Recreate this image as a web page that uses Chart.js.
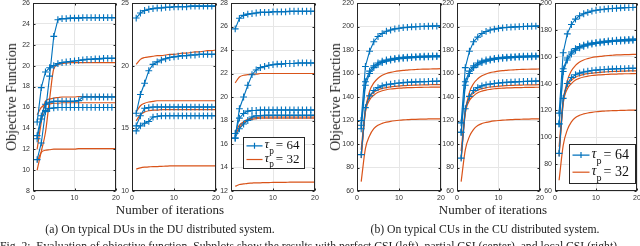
<!DOCTYPE html>
<html>
<head>
<meta charset="utf-8">
<script src="https://cdn.jsdelivr.net/npm/chart.js@4/dist/chart.umd.min.js"></script>
<style>
body { margin:0; background:#fff; width:640px; height:246px; overflow:hidden; position:relative; font-family:"Liberation Serif", "Times New Roman", serif; color:#222; }
canvas { position:absolute; }
.txt { position:absolute; white-space:nowrap; transform:translate(-50%, -50%); }
.ylab { transform:translate(-50%, -50%) rotate(-90deg); font-size:14px; }
.xlab { font-size:13px; }
.cap { font-size:11.7px; }
</style>
</head>
<body>
<canvas id="c1"></canvas>
<canvas id="c2"></canvas>
<canvas id="c3"></canvas>
<canvas id="c4"></canvas>
<canvas id="c5"></canvas>
<canvas id="c6"></canvas>

<div class="txt ylab" style="left:12px;top:97px">Objective Function</div>
<div class="txt ylab" style="left:336px;top:97px">Objective Function</div>
<div class="txt xlab" style="left:170px;top:210px">Number of iterations</div>
<div class="txt xlab" style="left:493px;top:210px">Number of iterations</div>
<div class="txt cap" style="left:160px;top:229px">(a) On typical DUs in the DU distributed system.</div>
<div class="txt cap" style="left:485px;top:229px">(b) On typical CUs in the CU distributed system.</div>
<div class="txt cap" style="left:0;top:246px;transform:translate(0,-50%)">Fig. 2:&nbsp; Evaluation of objective function. Subplots show the results with perfect CSI (left), partial CSI (center), and local CSI (right).</div>

<script>
const iterations = [1, 2, 3, 4, 5, 6, 7, 8, 9, 10, 11, 12, 13, 14, 15, 16, 17, 18, 19, 20];
const tauValues = [64, 32];

// (a) DU system, left subplot
const duA64 = [
    [11.0, 12.6, 15.6, 19.0, 22.8, 24.4, 24.5, 24.5, 24.55, 24.55, 24.55, 24.6, 24.6, 24.6, 24.6, 24.6, 24.6, 24.6, 24.6, 24.6],
    [14.6, 17.9, 19.4, 19.8, 20.0, 20.2, 20.3, 20.35, 20.4, 20.45, 20.5, 20.55, 20.6, 20.6, 20.65, 20.65, 20.7, 20.7, 20.7, 20.7],
    [13.3, 15.2, 16.3, 16.5, 16.6, 16.6, 16.6, 16.6, 16.6, 16.6, 16.65, 17.0, 17.0, 17.0, 17.0, 17.0, 17.0, 17.0, 17.0, 17.0],
    [13.0, 14.9, 15.7, 15.9, 15.95, 16.0, 16.0, 16.0, 16.0, 16.0, 16.0, 16.0, 16.0, 16.0, 16.0, 16.0, 16.0, 16.0, 16.0, 16.0]
];
const duA32 = [
    [10.0, 11.8, 13.6, 16.8, 19.7, 20.1, 20.2, 20.25, 20.3, 20.3, 20.3, 20.3, 20.3, 20.3, 20.3, 20.3, 20.3, 20.3, 20.3, 20.3],
    [12.0, 14.6, 16.6, 16.8, 16.9, 16.95, 17.0, 17.0, 17.0, 17.0, 17.05, 17.05, 17.05, 17.05, 17.05, 17.05, 17.05, 17.05, 17.05, 17.05],
    [15.3, 16.0, 16.3, 16.35, 16.4, 16.4, 16.45, 16.45, 16.45, 16.45, 16.45, 16.45, 16.45, 16.45, 16.45, 16.45, 16.45, 16.45, 16.45, 16.45],
    [10.8, 11.7, 11.9, 11.95, 12.0, 12.0, 12.0, 12.0, 12.0, 12.0, 12.05, 12.05, 12.05, 12.05, 12.05, 12.05, 12.05, 12.05, 12.05, 12.05]
];

// (a) DU system, middle subplot
const duB64 = [
    [23.8, 24.2, 24.4, 24.5, 24.55, 24.6, 24.6, 24.65, 24.65, 24.7, 24.7, 24.7, 24.7, 24.75, 24.75, 24.75, 24.75, 24.75, 24.75, 24.75],
    [16.2, 17.7, 18.6, 19.6, 20.1, 20.3, 20.45, 20.55, 20.65, 20.7, 20.75, 20.8, 20.8, 20.85, 20.85, 20.9, 20.9, 20.9, 20.9, 20.9],
    [15.2, 16.0, 16.6, 16.65, 16.7, 16.7, 16.7, 16.7, 16.7, 16.7, 16.7, 16.7, 16.7, 16.7, 16.7, 16.7, 16.7, 16.7, 16.7, 16.7],
    [14.8, 15.2, 15.4, 15.55, 15.9, 15.95, 16.0, 16.0, 16.0, 16.0, 16.0, 16.0, 16.0, 16.0, 16.0, 16.0, 16.0, 16.0, 16.0, 16.0]
];
const duB32 = [
    [20.1, 20.5, 20.65, 20.7, 20.75, 20.8, 20.8, 20.85, 20.9, 20.9, 20.95, 21.0, 21.0, 21.05, 21.1, 21.1, 21.15, 21.2, 21.2, 21.25],
    [16.3, 16.8, 17.0, 17.1, 17.15, 17.2, 17.2, 17.2, 17.2, 17.2, 17.2, 17.2, 17.2, 17.2, 17.2, 17.2, 17.2, 17.2, 17.2, 17.2],
    [15.6, 16.1, 16.3, 16.4, 16.45, 16.45, 16.5, 16.5, 16.5, 16.5, 16.5, 16.5, 16.5, 16.5, 16.5, 16.5, 16.5, 16.5, 16.5, 16.5],
    [11.75, 11.85, 11.9, 11.92, 11.95, 11.95, 11.97, 11.98, 12.0, 12.0, 12.0, 12.0, 12.0, 12.0, 12.0, 12.0, 12.0, 12.0, 12.0, 12.0]
];

// (a) DU system, right subplot
const duC64 = [
    [25.8, 26.7, 26.95, 27.05, 27.1, 27.15, 27.2, 27.2, 27.2, 27.25, 27.25, 27.25, 27.25, 27.3, 27.3, 27.3, 27.3, 27.3, 27.3, 27.3],
    [16.5, 19.0, 20.0, 21.0, 21.9, 22.3, 22.5, 22.6, 22.7, 22.75, 22.8, 22.8, 22.85, 22.85, 22.85, 22.9, 22.9, 22.9, 22.9, 22.9],
    [16.9, 18.2, 18.6, 18.8, 18.85, 18.85, 18.9, 18.9, 18.9, 18.9, 18.9, 18.9, 18.9, 18.9, 18.9, 18.9, 18.9, 18.9, 18.9, 18.9],
    [16.5, 17.3, 17.7, 18.0, 18.3, 18.4, 18.4, 18.45, 18.45, 18.45, 18.45, 18.45, 18.45, 18.45, 18.45, 18.45, 18.45, 18.45, 18.45, 18.45]
];
const duC32 = [
    [21.2, 21.7, 21.85, 21.9, 21.95, 21.95, 22.0, 22.0, 22.0, 22.0, 22.0, 22.0, 22.0, 22.0, 22.0, 22.0, 22.0, 22.0, 22.0, 22.0],
    [17.0, 17.6, 17.9, 18.1, 18.2, 18.25, 18.3, 18.3, 18.3, 18.3, 18.3, 18.3, 18.3, 18.3, 18.3, 18.3, 18.3, 18.3, 18.3, 18.3],
    [16.8, 17.4, 17.8, 18.0, 18.1, 18.15, 18.2, 18.2, 18.2, 18.2, 18.2, 18.2, 18.2, 18.2, 18.2, 18.2, 18.2, 18.2, 18.2, 18.2],
    [12.4, 12.55, 12.6, 12.65, 12.67, 12.7, 12.7, 12.72, 12.72, 12.73, 12.73, 12.74, 12.74, 12.75, 12.75, 12.75, 12.75, 12.75, 12.75, 12.75]
];

// (b) CU system, left subplot
const cuA64 = [
    [120, 166, 179, 187, 191.5, 194, 196, 197, 198, 198.5, 199, 199.3, 199.6, 199.8, 200, 200.1, 200.2, 200.3, 200.4, 200.5],
    [116, 153, 162, 166.5, 169, 170.5, 171.5, 172.3, 172.9, 173.3, 173.7, 174, 174.2, 174.4, 174.6, 174.7, 174.8, 174.9, 175, 175],
    [113, 150, 160, 165, 167.5, 169.3, 170.5, 171.4, 172, 172.5, 172.9, 173.2, 173.5, 173.7, 173.9, 174, 174.1, 174.2, 174.3, 174.4],
    [91, 131, 141, 145.5, 148, 149.5, 150.4, 151, 151.5, 151.9, 152.2, 152.5, 152.7, 152.9, 153, 153.1, 153.2, 153.3, 153.4, 153.5]
];
const cuA32 = [
    [88, 128, 145, 152, 156, 158.5, 160, 161, 161.7, 162.2, 162.6, 162.9, 163.2, 163.4, 163.6, 163.7, 163.8, 163.9, 164, 164.1],
    [95, 130, 140, 144, 146, 147.3, 148, 148.6, 149, 149.3, 149.6, 149.8, 150, 150.1, 150.2, 150.3, 150.4, 150.5, 150.5, 150.6],
    [90, 127, 137.5, 141.5, 144, 145.3, 146.2, 146.8, 147.2, 147.5, 147.7, 147.9, 148, 148.1, 148.2, 148.3, 148.3, 148.4, 148.4, 148.5],
    [68, 96, 107, 113, 116, 117.6, 118.6, 119.3, 119.8, 120.2, 120.5, 120.7, 120.9, 121, 121.1, 121.2, 121.3, 121.4, 121.4, 121.5]
];

// (b) CU system, middle subplot
const cuB64 = [
    [118, 165, 179, 187, 191, 194, 195.8, 197, 197.8, 198.4, 198.9, 199.2, 199.5, 199.7, 199.9, 200, 200.1, 200.2, 200.3, 200.4],
    [110, 153, 162, 166.5, 169, 170.5, 171.5, 172.3, 172.9, 173.3, 173.7, 174, 174.2, 174.4, 174.6, 174.7, 174.8, 174.9, 175, 175.1],
    [110, 150, 160, 165, 167.5, 169.2, 170.4, 171.3, 172, 172.5, 172.9, 173.2, 173.5, 173.7, 173.9, 174, 174.1, 174.2, 174.3, 174.4],
    [88, 130, 140.5, 145.5, 148, 149.5, 150.4, 151, 151.5, 151.9, 152.2, 152.5, 152.7, 152.9, 153.1, 153.2, 153.3, 153.4, 153.5, 153.6]
];
const cuB32 = [
    [86, 127, 144, 151.5, 155.5, 158, 159.6, 160.7, 161.4, 162, 162.4, 162.7, 163, 163.2, 163.4, 163.5, 163.6, 163.7, 163.8, 163.9],
    [94, 129, 139.5, 143.5, 145.8, 147.1, 147.9, 148.5, 148.9, 149.2, 149.5, 149.7, 149.9, 150, 150.1, 150.2, 150.3, 150.4, 150.4, 150.5],
    [89, 126, 137, 141, 143.6, 145, 145.9, 146.5, 147, 147.3, 147.5, 147.7, 147.8, 147.9, 148, 148.1, 148.2, 148.2, 148.3, 148.3],
    [68, 95, 106.5, 112.5, 115.7, 117.4, 118.4, 119.1, 119.6, 120, 120.3, 120.5, 120.7, 120.9, 121, 121.1, 121.2, 121.3, 121.3, 121.4]
];

// (b) CU system, right subplot
const cuC64 = [
    [118, 163, 177, 184, 188, 190.5, 192, 193, 194, 194.6, 195, 195.4, 195.7, 195.9, 196.1, 196.3, 196.5, 196.6, 196.7, 196.8],
    [110, 151, 159, 163.5, 166, 167.6, 168.7, 169.5, 170.1, 170.6, 171, 171.4, 171.7, 172, 172.3, 172.5, 172.7, 172.9, 173, 173.1],
    [110, 149, 157.5, 162, 164.8, 166.6, 167.8, 168.7, 169.4, 169.9, 170.3, 170.7, 171, 171.3, 171.5, 171.7, 171.9, 172, 172.1, 172.2],
    [88, 129, 140, 144.5, 146.6, 147.8, 148.6, 149.2, 149.7, 150, 150.3, 150.5, 150.7, 150.9, 151, 151.1, 151.2, 151.3, 151.4, 151.4]
];
const cuC32 = [
    [86, 126, 142, 149.5, 153.5, 156, 157.6, 158.6, 159.4, 159.9, 160.3, 160.6, 160.9, 161.1, 161.3, 161.4, 161.5, 161.6, 161.7, 161.8],
    [93, 128, 138.5, 142.5, 144.7, 146, 146.8, 147.4, 147.8, 148.1, 148.4, 148.6, 148.8, 149, 149.1, 149.2, 149.3, 149.4, 149.5, 149.5],
    [88, 125, 136, 140, 142.6, 144, 144.9, 145.5, 146, 146.3, 146.5, 146.7, 146.9, 147, 147.1, 147.2, 147.3, 147.3, 147.4, 147.5],
    [68, 94, 105.5, 111.5, 114.7, 116.4, 117.4, 118.1, 118.6, 119, 119.3, 119.5, 119.7, 119.8, 119.9, 120, 120.1, 120.2, 120.2, 120.3]
];

const BLUE = '#0072BD';
const ORANGE = '#D95319';
const AXIS_W = 24;
const PAD_R = 6;
const PAD_T = 8;
const CANVAS_TOP = -5;
const PLOT_BOTTOM = 191;
const CANVAS_H = 211;

// box round the plot area, inner tick marks and optional legend
const boxPlugin = {
    id: 'box',
    afterDraw(chart, args, opts) {
        const a = chart.chartArea;
        const ctx = chart.ctx;
        const l = Math.round(a.left) + 0.5, r = Math.round(a.right) - 0.5;
        const t = Math.round(a.top) + 0.5, b = Math.round(a.bottom) - 0.5;
        ctx.save();
        ctx.strokeStyle = '#262626';
        ctx.lineWidth = 1;
        ctx.strokeRect(l, t, r - l, b - t);
        ctx.beginPath();
        chart.scales.y.ticks.forEach(function(tk) {
            const py = Math.round(chart.scales.y.getPixelForValue(tk.value)) + 0.5;
            ctx.moveTo(l, py); ctx.lineTo(l + 2, py);
            ctx.moveTo(r, py); ctx.lineTo(r - 2, py);
        });
        chart.scales.x.ticks.forEach(function(tk) {
            const px = Math.round(chart.scales.x.getPixelForValue(tk.value)) + 0.5;
            ctx.moveTo(px, b); ctx.lineTo(px, b - 2);
            ctx.moveTo(px, t); ctx.lineTo(px, t + 2);
        });
        ctx.stroke();

        const L = opts.legend;
        if (L) {
            const x0 = Math.round(a.left + L.x) + 0.5, y0 = Math.round(a.top + L.y) + 0.5;
            ctx.fillStyle = '#fff';
            ctx.fillRect(x0, y0, L.w, L.h);
            ctx.strokeStyle = '#262626';
            ctx.strokeRect(x0, y0, L.w, L.h);
            const colors = [BLUE, ORANGE];
            tauValues.forEach(function(tau, i) {
                const yy = y0 + L.h * (i === 0 ? 0.27 : 0.71);
                ctx.strokeStyle = colors[i];
                ctx.lineWidth = 1.2;
                ctx.beginPath();
                ctx.moveTo(x0 + 3, yy);
                ctx.lineTo(x0 + 3 + L.line, yy);
                if (i === 0) {
                    const mx = x0 + 3 + L.line / 2;
                    ctx.moveTo(mx - 3, yy); ctx.lineTo(mx + 3, yy);
                    ctx.moveTo(mx, yy - 3); ctx.lineTo(mx, yy + 3);
                }
                ctx.stroke();
                ctx.fillStyle = '#111';
                ctx.textBaseline = 'middle';
                ctx.font = 'italic ' + L.fs + 'px "Liberation Serif"';
                let tx = x0 + 5 + L.line;
                ctx.fillText('\u03C4', tx, yy - 1);
                tx += ctx.measureText('\u03C4').width;
                ctx.font = (L.fs * 0.72) + 'px "Liberation Serif"';
                ctx.fillText('p', tx, yy + L.fs * 0.42);
                tx += ctx.measureText('p').width + 2;
                ctx.font = L.fs + 'px "Liberation Serif"';
                ctx.fillText('= ' + tau, tx, yy);
            });
        }
        ctx.restore();
    }
};

function makeSubplot(id, left, right, yMin, yMax, yStep, tau64, tau32, legend) {
    const canvas = document.getElementById(id);
    const w = right - left + AXIS_W + PAD_R;
    canvas.width = w;
    canvas.height = CANVAS_H;
    canvas.style.left = (left - AXIS_W) + 'px';
    canvas.style.top = CANVAS_TOP + 'px';

    const datasets = [];
    tau64.forEach(function(vals) {
        datasets.push({
            data: vals.map(function(v, i) { return { x: iterations[i], y: v }; }),
            borderColor: BLUE,
            borderWidth: 1.1,
            pointStyle: 'cross',
            pointRadius: 3.4,
            pointBorderWidth: 1.1,
            pointBorderColor: BLUE,
            tension: 0
        });
    });
    tau32.forEach(function(vals) {
        datasets.push({
            data: vals.map(function(v, i) { return { x: iterations[i], y: v }; }),
            borderColor: ORANGE,
            borderWidth: 1.2,
            pointRadius: 0,
            cubicInterpolationMode: 'monotone'
        });
    });

    return new Chart(canvas.getContext('2d'), {
        type: 'line',
        data: { datasets: datasets },
        plugins: [boxPlugin],
        options: {
            responsive: false,
            animation: false,
            devicePixelRatio: 1,
            layout: { padding: { left: 0, right: PAD_R, top: PAD_T, bottom: 0 } },
            plugins: {
                legend: { display: false },
                tooltip: { enabled: false },
                box: { legend: legend }
            },
            scales: {
                x: {
                    type: 'linear',
                    min: 0,
                    max: 20,
                    ticks: { stepSize: 10, padding: 3, color: '#333', font: { family: 'Liberation Sans', size: 7 }, maxRotation: 0 },
                    grid: { color: '#e6e6e6', drawTicks: false },
                    border: { display: false },
                    afterFit: function(s) {
                        s.height = CANVAS_H - (PLOT_BOTTOM - CANVAS_TOP);
                        s.paddingLeft = 0; s.paddingRight = 0;
                    }
                },
                y: {
                    min: yMin,
                    max: yMax,
                    ticks: { stepSize: yStep, padding: 3, color: '#333', font: { family: 'Liberation Sans', size: 7 } },
                    grid: { color: '#e6e6e6', drawTicks: false },
                    border: { display: false },
                    afterFit: function(s) {
                        s.width = AXIS_W;
                        s.paddingTop = 0; s.paddingBottom = 0;
                    }
                }
            }
        }
    });
}

makeSubplot('c1', 33, 116, 8, 26, 2, duA64, duA32, null);
makeSubplot('c2', 132, 216, 10, 25, 5, duB64, duB32, null);
makeSubplot('c3', 231, 315, 12, 28, 2, duC64, duC32, { x: 12, y: 134, w: 61, h: 31, line: 16, fs: 13 });
makeSubplot('c4', 357, 441, 60, 220, 20, cuA64, cuA32, null);
makeSubplot('c5', 457, 540, 60, 220, 20, cuB64, cuB32, null);
makeSubplot('c6', 555, 637, 60, 200, 20, cuC64, cuC32, { x: 14, y: 141, w: 66, h: 39, line: 17, fs: 14 });
</script>
</body>
</html>
